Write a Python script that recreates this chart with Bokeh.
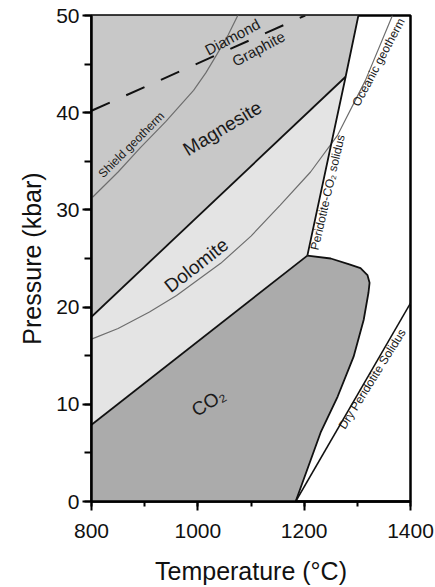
from bokeh.plotting import figure
from bokeh.models import SingleIntervalTicker, ColumnDataSource
from bokeh.core.properties import value
from bokeh.embed import file_html
from bokeh.resources import INLINE

# ---- data (temperature in deg C, pressure in kbar) ----
x_ticks = [800, 1000, 1200, 1400]
y_ticks = [0, 10, 20, 30, 40, 50]

mag_dol_T = [800, 1278]
mag_dol_P = [19.0, 43.7]

dol_co2_T = [800, 1206]
dol_co2_P = [7.9, 25.3]

solidus_T = [1206, 1278, 1302]
solidus_P = [25.3, 43.7, 50.0]

co2_limit_T = [1206, 1250, 1285, 1306, 1319, 1323, 1321, 1312, 1293, 1263, 1231, 1184]
co2_limit_P = [25.3, 25.0, 24.4, 24.0, 23.3, 22.5, 21.5, 18.7, 14.9, 10.8, 7.1, 0.0]

dry_solidus_T = [1184, 1400]
dry_solidus_P = [0.0, 20.4]

diamond_graphite_T = [800, 1202]
diamond_graphite_P = [40.2, 50.0]

shield_T = [802, 850, 892, 940, 992, 1015, 1037, 1057, 1076]
shield_P = [31.3, 33.9, 36.4, 39.1, 42.3, 44.1, 46.1, 48.0, 50.1]

oceanic_T = [800, 850, 909, 960, 1005, 1043, 1100, 1155, 1212, 1263, 1315, 1366]
oceanic_P = [16.7, 17.8, 19.5, 21.2, 23.0, 24.5, 27.3, 30.5, 33.9, 37.7, 43.3, 50.0]

region_labels = ["Magnesite", "Dolomite", "CO\u2082"]
region_label_T = [1046, 997, 1020]
region_label_P = [38.4, 24.3, 10.2]
region_label_angle = [31, 38, 32]

phase_labels = ["Diamond", "Graphite"]
phase_label_T = [1065, 1114]
phase_label_P = [47.8, 46.6]
phase_label_angle = [28, 28]

line_labels = ["Shield geotherm", "Oceanic geotherm", "Peridotite-CO\u2082 solidus", "Dry Peridotite Solidus"]
line_label_T = [875, 1340, 1244, 1328]
line_label_P = [36.7, 45.2, 31.8, 12.6]
line_label_angle = [45, 62, 77, 58]

# ---- figure ----
FONT = "Liberation Sans"
p = figure(width=435, height=587, x_range=(800, 1400), y_range=(0, 50),
           output_backend="svg", toolbar_location=None,
           min_border_left=91, min_border_right=25, min_border_top=15, min_border_bottom=85)
p.background_fill_color = "white"
p.border_fill_color = "white"
p.grid.visible = False
p.outline_line_color = "black"
p.outline_line_width = 2.5

# region fills
mag_T = [mag_dol_T[0], mag_dol_T[1]] + solidus_T[1:] + [800]
mag_P = [mag_dol_P[0], mag_dol_P[1]] + solidus_P[1:] + [50]
p.patch(mag_T, mag_P, fill_color="#c8c8c8", line_color=None)

dol_T = dol_co2_T + solidus_T[1:2] + mag_dol_T[::-1]
dol_P = dol_co2_P + solidus_P[1:2] + mag_dol_P[::-1]
p.patch(dol_T, dol_P, fill_color="#e4e4e4", line_color=None)

co2_T = [800] + dol_co2_T + co2_limit_T[1:]
co2_P = [0] + dol_co2_P + co2_limit_P[1:]
p.patch(co2_T, co2_P, fill_color="#ababab", line_color=None)

# geotherms
p.line(shield_T, shield_P, line_color="#6e6e6e", line_width=1.2)
p.line(oceanic_T, oceanic_P, line_color="#6e6e6e", line_width=1.2)

# boundaries
bw = 1.8
p.line(mag_dol_T, mag_dol_P, line_color="#111111", line_width=bw)
p.line(dol_co2_T, dol_co2_P, line_color="#111111", line_width=bw)
p.line(solidus_T, solidus_P, line_color="#111111", line_width=bw)
p.line(co2_limit_T, co2_limit_P, line_color="#111111", line_width=bw)
p.line(dry_solidus_T, dry_solidus_P, line_color="#111111", line_width=1.5)
p.line(diamond_graphite_T, diamond_graphite_P, line_color="#111111", line_width=2,
       line_dash="20 18")

# labels
src_r = ColumnDataSource(dict(x=region_label_T, y=region_label_P, t=region_labels, a=region_label_angle))
p.text(x="x", y="y", text="t", angle="a", angle_units="deg", source=src_r,
       text_font=value(FONT), text_font_size="19px", text_color="#1a1a1a",
       text_align="center", text_baseline="middle")
src_p = ColumnDataSource(dict(x=phase_label_T, y=phase_label_P, t=phase_labels, a=phase_label_angle))
p.text(x="x", y="y", text="t", angle="a", angle_units="deg", source=src_p,
       text_font=value(FONT), text_font_size="15px", text_color="#1a1a1a",
       text_align="center", text_baseline="middle")
src_l = ColumnDataSource(dict(x=line_label_T, y=line_label_P, t=line_labels, a=line_label_angle))
p.text(x="x", y="y", text="t", angle="a", angle_units="deg", source=src_l,
       text_font=value(FONT), text_font_size="12px", text_color="#1a1a1a",
       text_align="center", text_baseline="middle")

# axes
p.xaxis.ticker = SingleIntervalTicker(interval=200, num_minor_ticks=2)
p.yaxis.ticker = SingleIntervalTicker(interval=10, num_minor_ticks=2)
p.xaxis.axis_label = "Temperature (\u00b0C)"
p.yaxis.axis_label = "Pressure (kbar)"
for ax in (p.xaxis, p.yaxis):
    ax.axis_line_color = "black"
    ax.axis_line_width = 2.5
    ax.major_tick_line_color = "black"
    ax.major_tick_line_width = 2
    ax.minor_tick_line_color = "black"
    ax.minor_tick_line_width = 2
    ax.major_tick_in = 0
    ax.minor_tick_in = 0
    ax.major_tick_out = 9
    ax.major_label_text_font = FONT
    ax.major_label_text_font_size = "21px"
    ax.major_label_text_color = "#111111"
    ax.axis_label_text_font = FONT
    ax.axis_label_text_font_size = "25px"
    ax.axis_label_text_font_style = "normal"
    ax.axis_label_text_color = "#111111"
p.xaxis.minor_tick_out = 5
p.yaxis.minor_tick_out = 7
p.xaxis.major_label_standoff = 13
p.yaxis.major_label_standoff = 3
p.xaxis.axis_label_standoff = 16
p.yaxis.axis_label_standoff = 7

open("out.html", "w").write(file_html(p, INLINE))
